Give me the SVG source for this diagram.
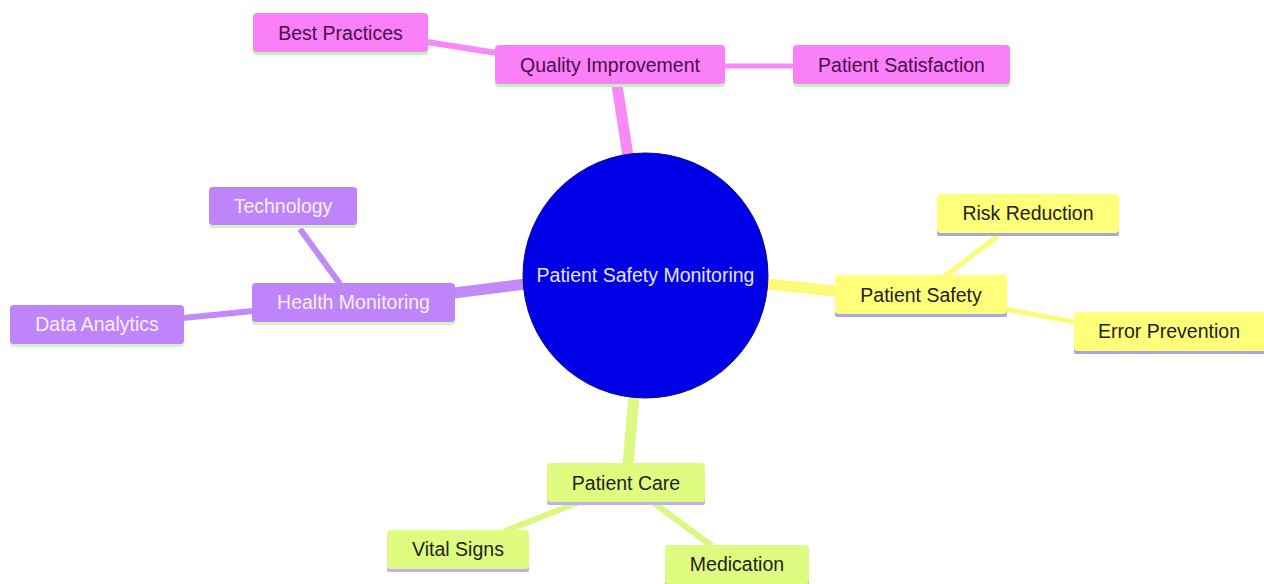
<svg xmlns="http://www.w3.org/2000/svg" width="1264" height="584" viewBox="0 0 1264 584">
<style>
text{font-family:"Liberation Sans",Arial,sans-serif;font-size:19.5px;text-anchor:middle;dominant-baseline:central}
.pk{fill:#f980f8}.pku{fill:#c4f0c0}.pkt{fill:#4a0e4a}
.pu{fill:#c084fa}.puu{fill:#d8f0c8}.put{fill:#f4f0ff}
.ye{fill:#ffff7a}.yeu{fill:#a8a8e0}.yet{fill:#222}
.gr{fill:#e0fc80}.gru{fill:#c0b0f0}.grt{fill:#222}
.e{fill:none;stroke-linecap:butt}
</style>
<g id="connectors">
<line class="e" x1="617" y1="85" x2="628" y2="156" stroke="#f78af7" stroke-width="11"/>
<line class="e" x1="427" y1="42" x2="497" y2="53" stroke="#f78af7" stroke-width="6"/>
<line class="e" x1="724" y1="66" x2="794" y2="66" stroke="#f78af7" stroke-width="5"/>
<line class="e" x1="454" y1="293" x2="526" y2="284" stroke="#c08af8" stroke-width="11"/>
<line class="e" x1="340" y1="284" x2="300" y2="229" stroke="#c08af8" stroke-width="6"/>
<line class="e" x1="183" y1="318" x2="253" y2="311" stroke="#c08af8" stroke-width="6"/>
<line class="e" x1="766" y1="284" x2="836" y2="291" stroke="#fbfb78" stroke-width="11"/>
<line class="e" x1="945" y1="276" x2="998" y2="236" stroke="#fbfb78" stroke-width="5"/>
<line class="e" x1="1005" y1="309" x2="1075" y2="322" stroke="#fbfb78" stroke-width="5"/>
<line class="e" x1="634" y1="396" x2="628" y2="464" stroke="#dcf882" stroke-width="11"/>
<line class="e" x1="577" y1="503" x2="505" y2="531" stroke="#dcf882" stroke-width="6"/>
<line class="e" x1="654" y1="503" x2="712" y2="546" stroke="#dcf882" stroke-width="6"/>
</g>
<g id="root">
<circle cx="645.5" cy="275.5" r="122.5" fill="#0000e6" stroke="#0a0a80" stroke-width="1"/>
<text x="645.5" y="275" fill="#e4e4f4">Patient Safety Monitoring</text>
</g>
<g id="quality-improvement">
<rect class="pku" x="495" y="48" width="230" height="39" rx="4"/>
<rect class="pk" x="495" y="45" width="230" height="39" rx="4"/>
<text class="pkt" x="610" y="65">Quality Improvement</text>
</g>
<g id="best-practices">
<rect class="pku" x="253" y="16" width="175" height="39" rx="4"/>
<rect class="pk" x="253" y="13" width="175" height="39" rx="4"/>
<text class="pkt" x="340.5" y="33">Best Practices</text>
</g>
<g id="patient-satisfaction">
<rect class="pku" x="793" y="48" width="217" height="39" rx="4"/>
<rect class="pk" x="793" y="45" width="217" height="39" rx="4"/>
<text class="pkt" x="901.5" y="65">Patient Satisfaction</text>
</g>
<g id="health-monitoring">
<rect class="puu" x="252" y="286" width="203" height="39" rx="4"/>
<rect class="pu" x="252" y="283" width="203" height="39" rx="4"/>
<text class="put" x="353.5" y="302">Health Monitoring</text>
</g>
<g id="technology">
<rect class="puu" x="209" y="190" width="148" height="38" rx="4"/>
<rect class="pu" x="209" y="187" width="148" height="38" rx="4"/>
<text class="put" x="283" y="206">Technology</text>
</g>
<g id="data-analytics">
<rect class="puu" x="10" y="308" width="174" height="39" rx="4"/>
<rect class="pu" x="10" y="305" width="174" height="39" rx="4"/>
<text class="put" x="97" y="324">Data Analytics</text>
</g>
<g id="patient-safety">
<rect class="yeu" x="835" y="278" width="172" height="39" rx="2"/>
<rect class="ye" x="835" y="275" width="172" height="39" rx="4"/>
<text class="yet" x="921" y="295">Patient Safety</text>
</g>
<g id="risk-reduction">
<rect class="yeu" x="937" y="197" width="182" height="39" rx="2"/>
<rect class="ye" x="937" y="194" width="182" height="39" rx="4"/>
<text class="yet" x="1028" y="213">Risk Reduction</text>
</g>
<g id="error-prevention">
<rect class="yeu" x="1074" y="315" width="195" height="39" rx="2"/>
<rect class="ye" x="1074" y="312" width="195" height="39" rx="4"/>
<text class="yet" x="1169" y="331">Error Prevention</text>
</g>
<g id="patient-care">
<rect class="gru" x="547" y="466" width="158" height="39" rx="2"/>
<rect class="gr" x="547" y="463" width="158" height="39" rx="4"/>
<text class="grt" x="626" y="483">Patient Care</text>
</g>
<g id="vital-signs">
<rect class="gru" x="387" y="533" width="142" height="39" rx="2"/>
<rect class="gr" x="387" y="530" width="142" height="39" rx="4"/>
<text class="grt" x="458" y="549">Vital Signs</text>
</g>
<g id="medication">
<rect class="gru" x="665" y="548" width="144" height="39" rx="2"/>
<rect class="gr" x="665" y="545" width="144" height="39" rx="4"/>
<text class="grt" x="737" y="564">Medication</text>
</g>
</svg>
